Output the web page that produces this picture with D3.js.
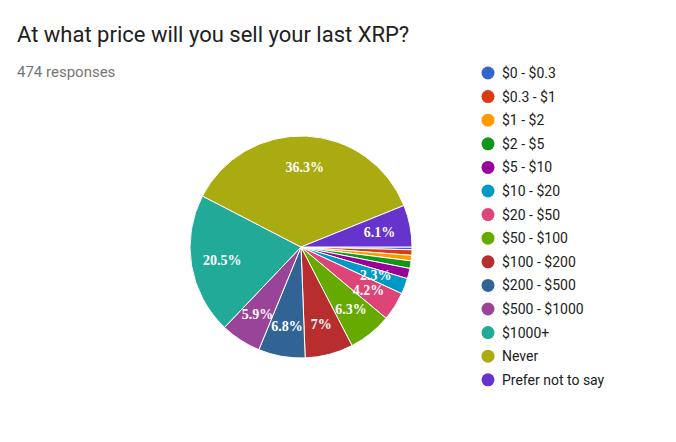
<!DOCTYPE html>
<html><head><meta charset="utf-8">
<script src="https://cdn.jsdelivr.net/npm/d3@7"></script>
<style>body{margin:0;background:#fff;font-family:Roboto,Arial,sans-serif}</style>
</head><body><div id="chart"></div>
<script>
// data
const categories = ["$0 - $0.3", "$0.3 - $1", "$1 - $2", "$2 - $5", "$5 - $10", "$10 - $20", "$20 - $50", "$50 - $100", "$100 - $200", "$200 - $500", "$500 - $1000", "$1000+", "Never", "Prefer not to say"];
const values = [0.4, 0.8, 0.8, 1.1, 1.5, 2.3, 4.2, 6.3, 7, 6.8, 5.9, 20.5, 36.3, 6.1];
const colors = ["#3366cc", "#dc3912", "#ff9900", "#109618", "#990099", "#0099c6", "#dd4477", "#66aa00", "#b82e2e", "#316395", "#994499", "#22aa99", "#aaaa11", "#6633cc"];

const width = 676, height = 442;
const svg = d3.select("#chart").append("svg")
    .attr("width", width).attr("height", height);

// title
svg.append("text").attr("x", 17).attr("y", 42)
    .attr("font-size", 22).attr("fill", "#212121")
    .text("At what price will you sell your last XRP?");
svg.append("text").attr("x", 17).attr("y", 77)
    .attr("font-size", 15).attr("fill", "#757575")
    .text("474 responses");

// pie
const cx = 301, cy = 247, r = 111;
const pie = d3.pie().sort(null)
    .startAngle(Math.PI / 2).endAngle(Math.PI / 2 + 2 * Math.PI);
const arcs = pie(values);
const arc = d3.arc().innerRadius(0).outerRadius(r);
const labelArc = d3.arc().innerRadius(r * 0.72).outerRadius(r * 0.72);

const g = svg.append("g").attr("transform", `translate(${cx},${cy})`);
g.selectAll("path").data(arcs).enter().append("path")
    .attr("d", arc)
    .attr("fill", (d, i) => colors[i])
    .attr("stroke", "#fff").attr("stroke-width", 1);

g.selectAll("text").data(arcs.filter(d => d.data >= 2)).enter().append("text")
    .attr("transform", d => `translate(${labelArc.centroid(d)})`)
    .attr("text-anchor", "middle").attr("dy", "0.35em")
    .attr("font-family", "'Liberation Serif', serif")
    .attr("font-weight", "bold").attr("font-size", 14).attr("fill", "#fff")
    .text(d => d.data + "%");

// legend
const legend = svg.append("g").attr("transform", "translate(488,73)");
const items = legend.selectAll("g").data(categories).enter().append("g")
    .attr("transform", (d, i) => `translate(0,${i * 23.6})`);
items.append("circle").attr("r", 6.5).attr("fill", (d, i) => colors[i]);
items.append("text").attr("x", 14).attr("dy", "0.35em")
    .attr("font-size", 14).attr("fill", "#212121")
    .text(d => d);
</script>
</body></html>
